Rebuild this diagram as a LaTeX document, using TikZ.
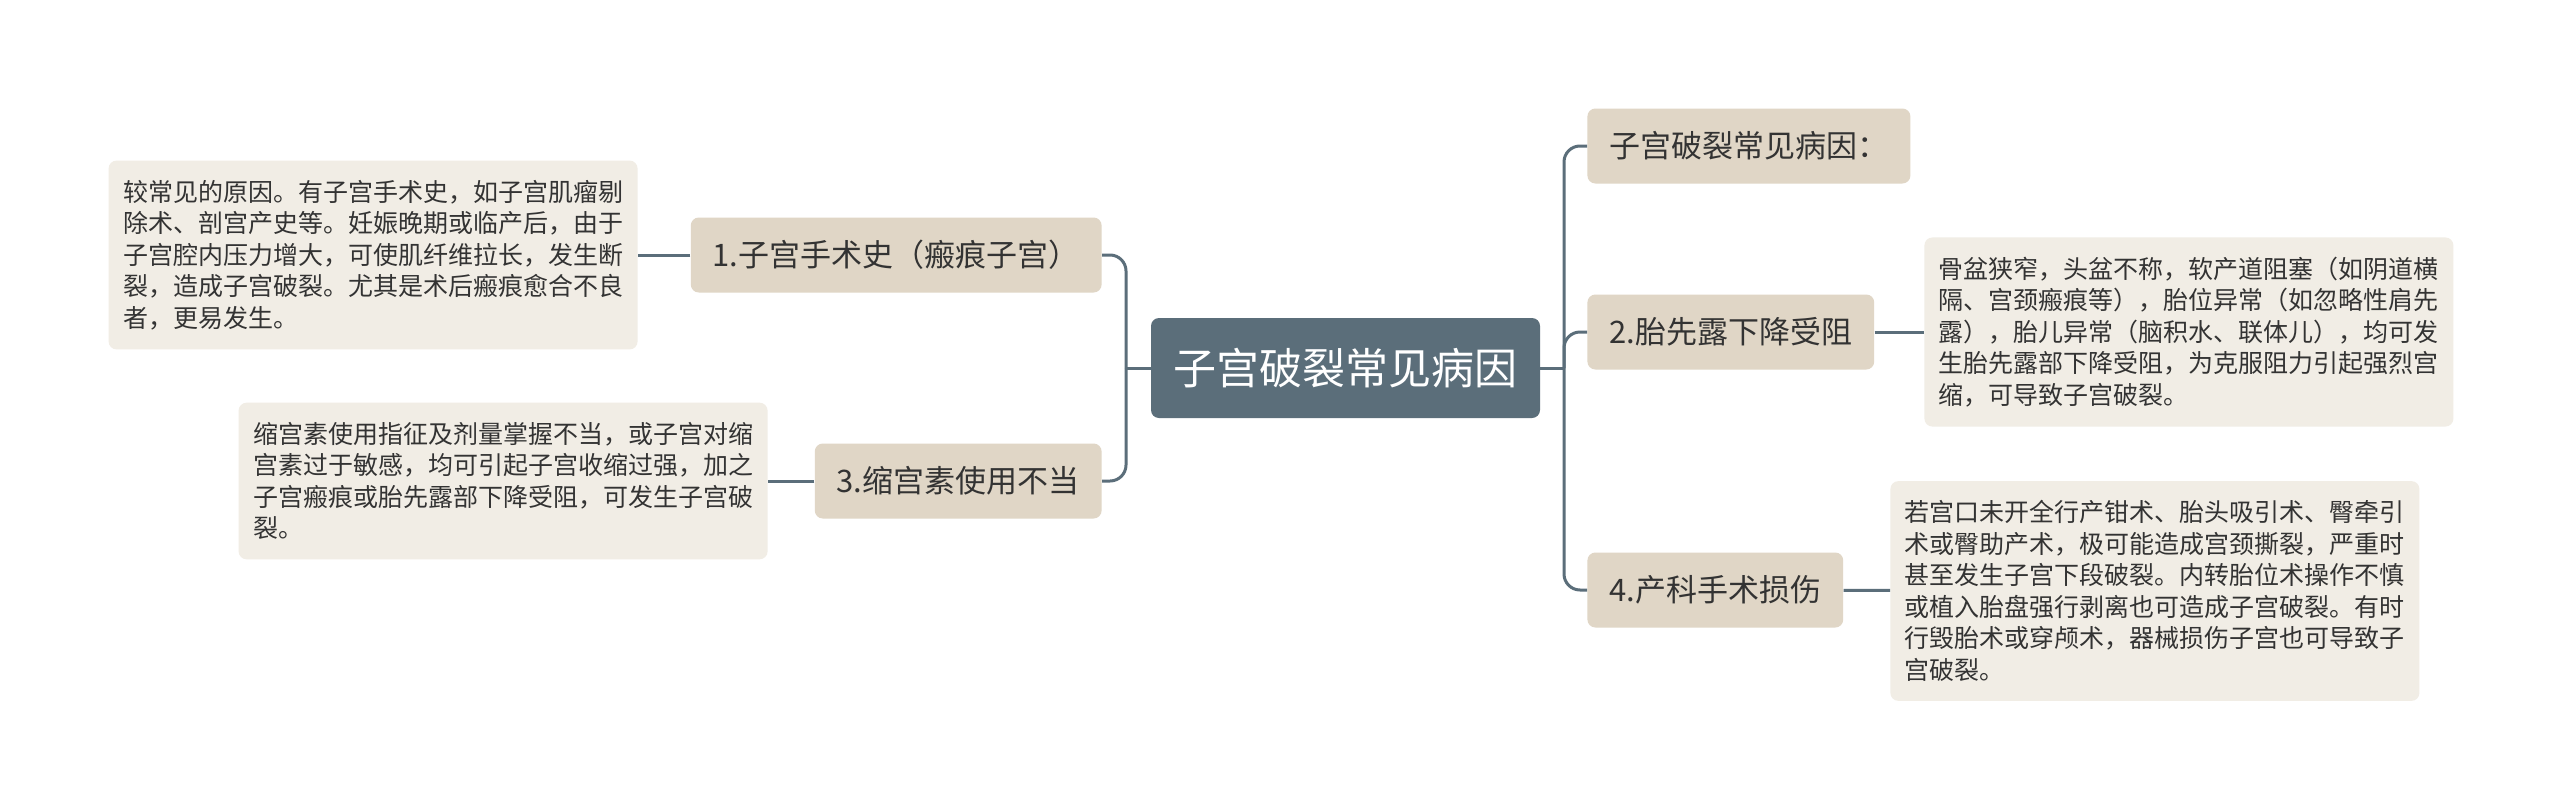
\documentclass[tikz,border=0pt]{standalone}
\usepackage{fontspec}
\setmainfont{Noto Sans CJK SC}
\usepackage{tikz}
\usetikzlibrary{positioning}
\definecolor{pizarra}{RGB}{91,110,122}
\definecolor{arena}{RGB}{224,214,198}
\definecolor{crema}{RGB}{241,237,229}
\definecolor{tinta}{RGB}{51,51,51}
\tikzset{
  raiz/.style={fill=pizarra, rounded corners=4pt, text=white, minimum width=194.5pt, minimum height=50pt, font=\fontsize{21.5}{26}\selectfont},
  rama/.style={fill=arena, rounded corners=4pt, text=tinta, inner xsep=11pt, minimum height=37.5pt, font=\fontsize{15.5}{19}\selectfont},
  nota/.style={fill=crema, rounded corners=4pt, text=tinta, align=left, inner xsep=7.25pt, inner ysep=9.75pt, font=\fontsize{12.5}{15.75}\selectfont},
  fl/.style={draw=pizarra, line width=1.5pt, rounded corners=8pt},
}
\begin{document}
\begin{tikzpicture}[x=0.5pt,y=-0.5pt]
  \useasboundingbox[fill=white] (0,0) rectangle (2560,809);
  \node[raiz] (r) at (1345.5,368) {子宫破裂常见病因};
  \coordinate (tR) at (1564,368);
  \coordinate (tL) at (1126,368);
  % lado derecho
  \node[rama, anchor=west] (c0) at (1587,146) {子宫破裂常见病因：};
  \node[rama, anchor=west] (c2) at (1587,332) {2.胎先露下降受阻};
  \node[rama, anchor=west] (c4) at (1587,590) {4.产科手术损伤};
  \node[nota, anchor=west] (d2) at (1924,332) {骨盆狭窄，头盆不称，软产道阻塞（如阴道横\\隔、宫颈瘢痕等），胎位异常（如忽略性肩先\\露），胎儿异常（脑积水、联体儿），均可发\\生胎先露部下降受阻，为克服阻力引起强烈宫\\缩，可导致子宫破裂。};
  \node[nota, anchor=west] (d4) at (1890,591) {若宫口未开全行产钳术、胎头吸引术、臀牵引\\术或臀助产术，极可能造成宫颈撕裂，严重时\\甚至发生子宫下段破裂。内转胎位术操作不慎\\或植入胎盘强行剥离也可造成子宫破裂。有时\\行毁胎术或穿颅术，器械损伤子宫也可导致子\\宫破裂。};
  % lado izquierdo
  \node[rama, anchor=east] (c1) at (1102,255) {1.子宫手术史（瘢痕子宫）};
  \node[rama, anchor=east] (c3) at (1102,481) {3.缩宫素使用不当};
  \node[nota, anchor=east] (d1) at (638,255) {较常见的原因。有子宫手术史，如子宫肌瘤剔\\除术、剖宫产史等。妊娠晚期或临产后，由于\\子宫腔内压力增大，可使肌纤维拉长，发生断\\裂，造成子宫破裂。尤其是术后瘢痕愈合不良\\者，更易发生。};
  \node[nota, anchor=east] (d3) at (768,481) {缩宫素使用指征及剂量掌握不当，或子宫对缩\\宫素过于敏感，均可引起子宫收缩过强，加之\\子宫瘢痕或胎先露部下降受阻，可发生子宫破\\裂。};
  \draw[fl] (r) -- (tR); \draw[fl] (r) -- (tL);
  \draw[fl] (tR) |- (c0); \draw[fl] (tR) |- (c2); \draw[fl] (tR) |- (c4);
  \draw[fl] (tL) |- (c1); \draw[fl] (tL) |- (c3);
  \draw[fl] (c2) -- (d2); \draw[fl] (c4) -- (d4);
  \draw[fl] (c1) -- (d1); \draw[fl] (c3) -- (d3);
\end{tikzpicture}
\end{document}
